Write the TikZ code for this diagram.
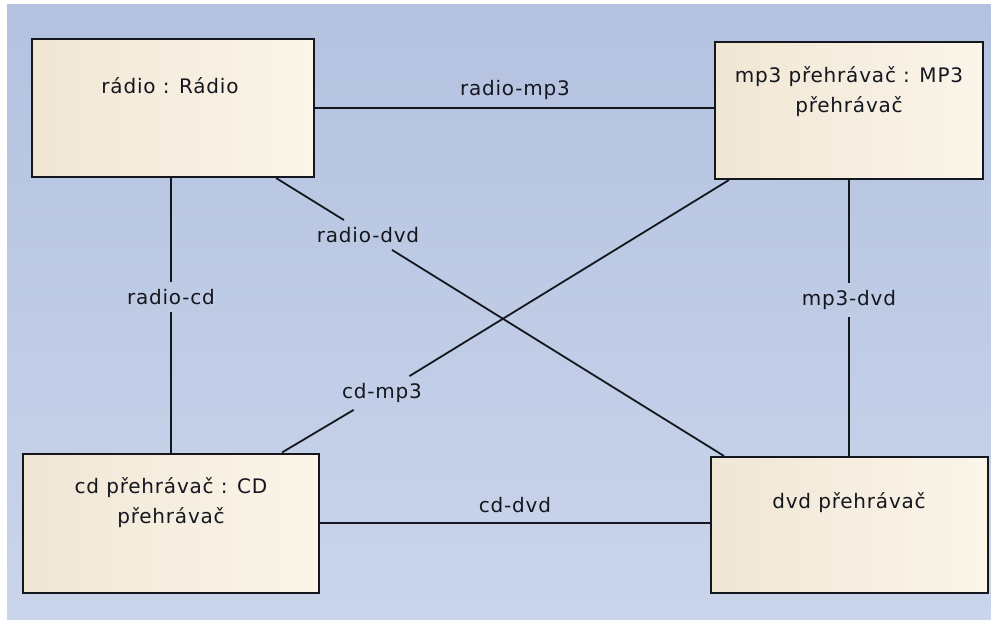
\documentclass[tikz,border=0pt]{standalone}
\usepackage{fontspec}
\setmainfont{DejaVu Sans}[LetterSpace=4]
\usetikzlibrary{calc}
\definecolor{bgTop}{HTML}{B4C2E0}
\definecolor{bgBot}{HTML}{CAD5EB}
\definecolor{boxL}{HTML}{F0E6D4}
\definecolor{boxR}{HTML}{FBF5EA}
\definecolor{ink}{HTML}{15171F}
\tikzset{
  objbox/.style={draw=ink, line width=2pt, left color=boxL, right color=boxR, inner sep=0pt},
  objtext/.style={text=ink, font=\fontsize{20}{30}\selectfont, align=center, inner sep=0pt},
  conn/.style={draw=ink, line width=1.8pt},
  clabel/.style={text=ink, font=\fontsize{20}{22}\selectfont, inner xsep=3pt, inner ysep=7pt}
}
\begin{document}
\begin{tikzpicture}[x=1pt,y=-1pt]
\useasboundingbox (0,0) rectangle (991,620);
\fill[white] (0,0) rectangle (991,620);
\shade[top color=bgTop, bottom color=bgBot] (7,5) rectangle (991,620);

% boxes
\node[objbox, minimum width=282pt, minimum height=138pt] (radio) at (173,108) {};
\node[objbox, minimum width=268pt, minimum height=137pt] (mp3) at (849,110.5) {};
\node[objbox, minimum width=296pt, minimum height=139pt] (cd) at (171,523) {};
\node[objbox, minimum width=277pt, minimum height=136pt] (dvd) at (849.5,525) {};

% box texts
\node[objtext] (radiot) at (170,86) {rádio : Rádio};
\node[objtext] (mp3t) at (849,92) {mp3 přehrávač : MP3\\přehrávač};
\node[objtext] (cdt) at (171,503) {cd přehrávač : CD\\přehrávač};
\node[objtext] (dvdt) at (849,503) {dvd přehrávač};

% connector labels
\node[clabel] (lrm) at (515,90) {radio-mp3};
\node[clabel] (lrc) at (171,297) {radio-cd};
\node[clabel] (lrd) at (368,235) {radio-dvd};
\node[clabel] (lcm) at (382,393) {cd-mp3};
\node[clabel] (lmd) at (849,300) {mp3-dvd};
\node[clabel] (lcd) at (515,505) {cd-dvd};

% connectors
\draw[conn] (radio.east) -- (radio.east -| mp3.west);
\draw[conn] (cd.east) -- (cd.east -| dvd.west);
\draw[conn] (lrc |- radio.south) -- (lrc) -- (lrc |- cd.north);
\draw[conn] (lmd |- mp3.south) -- (lmd) -- (lmd |- dvd.north);
\draw[conn] ([xshift=245pt]radio.south west) -- (lrd) -- ([xshift=14pt]dvd.north west);
\draw[conn] ([xshift=260pt]cd.north west) -- (lcm) -- ([xshift=15pt]mp3.south west);
\end{tikzpicture}
\end{document}
